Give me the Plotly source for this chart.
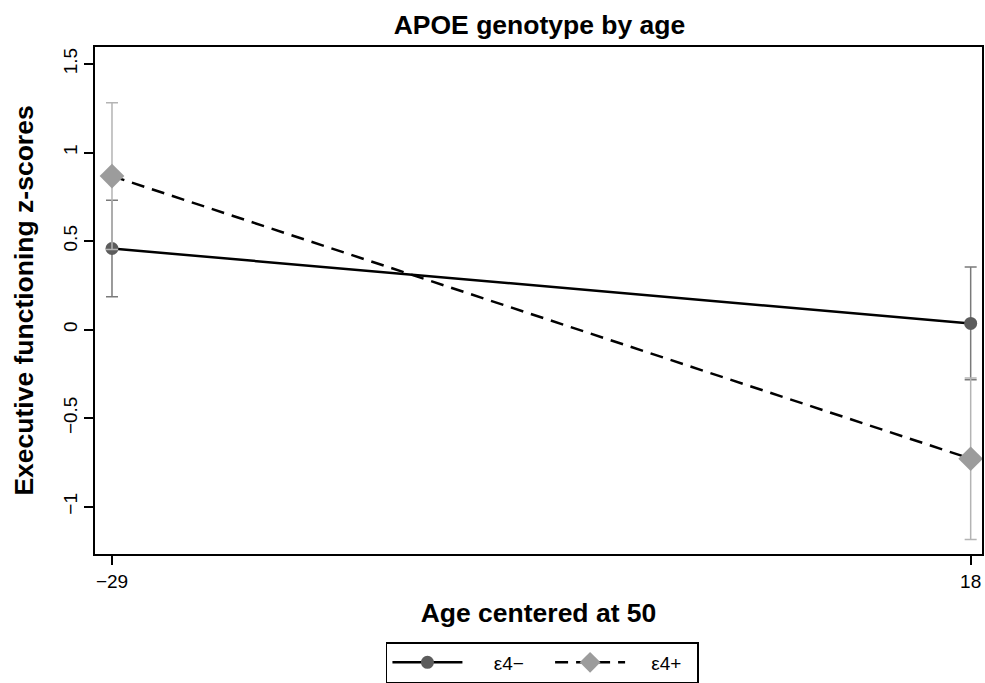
import plotly.graph_objects as go

ages = [-29, 18]
e4neg_mean = [0.458, 0.035]
e4neg_err = [0.273, 0.318]
e4pos_mean = [0.867, -0.729]
e4pos_err = [0.414, 0.456]
y_ticks = [-1, -0.5, 0, 0.5, 1, 1.5]
y_labels = ["\u22121", "\u22120.5", "0", "0.5", "1", "1.5"]
x_ticks = [-29, 18]
x_labels = ["\u221229", "18"]
series_names = ["\u03b54\u2212", "\u03b54+"]

FONT = "Liberation Sans, Arial, sans-serif"
NB = "\u00a0"

fig = go.Figure()
fig.add_trace(go.Scatter(
    x=ages, y=e4neg_mean, name=NB * 5 + series_names[0] + NB * 4, mode="lines+markers",
    line=dict(color="black", width=2.5),
    marker=dict(symbol="circle", size=13, color="#5c5c5c"),
    error_y=dict(type="data", array=e4neg_err, visible=True,
                 color="#7a7a7a", thickness=1.5, width=6),
))
fig.add_trace(go.Scatter(
    x=ages, y=e4pos_mean, name=NB * 4 + series_names[1] + NB * 2, mode="lines+markers",
    line=dict(color="black", width=2.5, dash="13px,8px"),
    marker=dict(symbol="diamond", size=19, color="#9c9c9c"),
    error_y=dict(type="data", array=e4pos_err, visible=True,
                 color="#b4b4b4", thickness=1.5, width=6),
))

fig.update_layout(
    width=985, height=683,
    margin=dict(l=95, r=3, t=47, b=129, autoexpand=False),
    paper_bgcolor="white", plot_bgcolor="white",
    font=dict(family=FONT, color="black", size=19),
    title=dict(text="<b>APOE genotype by age</b>", x=0.5477, xanchor="center",
               y=0.9634, yanchor="middle", font=dict(size=26.5, family=FONT)),
    xaxis=dict(range=[-29.93, 18.62], tickvals=x_ticks, ticktext=x_labels,
               showgrid=False, zeroline=False, showline=True, linecolor="black",
               linewidth=1.5, mirror=True, ticks="outside", ticklen=9,
               tickwidth=1.5, tickcolor="black", tickfont=dict(size=19),
               title=dict(text="<b>Age centered at 50</b>", font=dict(size=26.5), standoff=13)),
    yaxis=dict(range=[-1.267, 1.596], tickvals=y_ticks, ticktext=y_labels,
               showgrid=False, zeroline=False, showline=True, linecolor="black",
               linewidth=1.5, mirror=True, ticks="outside", ticklen=9,
               tickwidth=1.5, tickcolor="black", tickangle=-90, tickfont=dict(size=19),
               title=dict(text="<b>Executive functioning z-scores</b>", font=dict(size=26.5), standoff=18)),
    legend=dict(orientation="h", x=0.328, xanchor="left", y=-0.1736, yanchor="top",
                bordercolor="black", borderwidth=1.5, bgcolor="white",
                font=dict(size=19, family=FONT), itemwidth=70,
                itemclick=False),
    showlegend=True,
)

fig.write_html(
    "out.html",
    config={"displayModeBar": False},
    post_script="document.body.style.margin='0';document.body.style.overflow='hidden';",
)
